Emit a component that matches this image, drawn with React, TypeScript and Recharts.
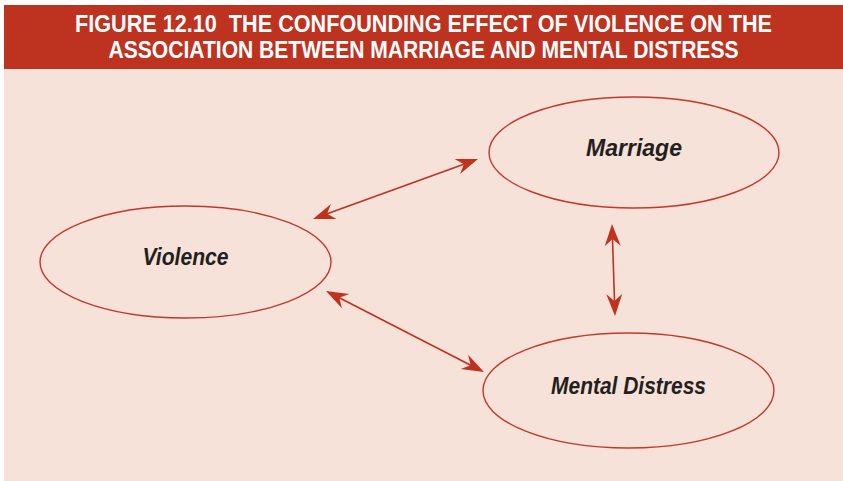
import React from 'react';
import { ScatterChart, Scatter, XAxis, YAxis, ReferenceArea, ReferenceLine } from 'recharts';

// Diagram units (one unit per pixel of the reference figure)
const W = 843;
const H = 481;

const TITLE_LINES = [
  'FIGURE 12.10\u00A0 THE CONFOUNDING EFFECT OF VIOLENCE ON THE',
  'ASSOCIATION BETWEEN MARRIAGE AND MENTAL DISTRESS',
];

const NODE_NAMES = ['Marriage', 'Violence', 'Mental Distress'];
const NODE_LEFT = [489, 40, 483];
const NODE_RIGHT = [779, 331, 774];
const NODE_TOP = [97, 206, 333];
const NODE_BOTTOM = [208, 318, 448];

const ARROW_FROM_X = [313, 612, 326];
const ARROW_FROM_Y = [219, 224, 291];
const ARROW_TO_X = [478, 615, 484];
const ARROW_TO_Y = [159, 316, 372];

const PANEL = { x1: 4, x2: 843, y1: 5, y2: 481 };
const HEADER = { x1: 4, x2: 843, y1: 5, y2: 69 };

const RED = '#BE3220';
const PEACH = '#F6E2D8';
const STROKE = '#C4382A';
const TEXT = '#231F20';

const LABEL_WIDTH: Record<string, number> = {
  Marriage: 96,
  Violence: 86,
  'Mental Distress': 155,
};
const TITLE_WIDTH = [697, 630];

const nodeData = NODE_NAMES.map((name, i) => ({
  name,
  x: (NODE_LEFT[i] + NODE_RIGHT[i]) / 2,
  y: (NODE_TOP[i] + NODE_BOTTOM[i]) / 2,
}));

const arrows = ARROW_FROM_X.map((_, i) => [
  { x: ARROW_FROM_X[i], y: ARROW_FROM_Y[i] },
  { x: ARROW_TO_X[i], y: ARROW_TO_Y[i] },
]);

function head(tx: number, ty: number, ux: number, uy: number) {
  // ux,uy: unit vector pointing toward the tip
  const L = 22;
  const N = 15;
  const Wd = 8;
  const px = -uy;
  const py = ux;
  const bx = tx - ux * L;
  const by = ty - uy * L;
  const nx = tx - ux * N;
  const ny = ty - uy * N;
  return `M${tx},${ty} L${bx + px * Wd},${by + py * Wd} L${nx},${ny} L${bx - px * Wd},${by - py * Wd} Z`;
}

const ArrowShape = (props: any) => {
  const { x1, y1, x2, y2 } = props;
  if ([x1, y1, x2, y2].some((v) => typeof v !== 'number' || isNaN(v))) return null;
  const dx = x2 - x1;
  const dy = y2 - y1;
  const len = Math.sqrt(dx * dx + dy * dy);
  const ux = dx / len;
  const uy = dy / len;
  return (
    <g>
      <line
        x1={x1 + ux * 10}
        y1={y1 + uy * 10}
        x2={x2 - ux * 10}
        y2={y2 - uy * 10}
        stroke={RED}
        strokeWidth={1.6}
      />
      <path d={head(x2, y2, ux, uy)} fill={RED} />
      <path d={head(x1, y1, -ux, -uy)} fill={RED} />
    </g>
  );
};

const EllipseShape = (props: any) => {
  const { x, y, width, height } = props;
  return (
    <ellipse
      cx={x + width / 2}
      cy={y + height / 2}
      rx={width / 2}
      ry={height / 2}
      fill="none"
      stroke={STROKE}
      strokeWidth={1.4}
    />
  );
};

const RectShape = (fill: string) => (props: any) => {
  const { x, y, width, height } = props;
  return <rect x={x} y={y} width={width} height={height} fill={fill} />;
};

const HeaderShape = (props: any) => {
  const { x, y, width, height } = props;
  const cx = x + width / 2;
  return (
    <g>
      <rect x={x} y={y} width={width} height={height} fill={RED} />
      {TITLE_LINES.map((t, i) => (
        <text
          key={i}
          x={cx}
          y={y + 27 + i * 26}
          textAnchor="middle"
          fill="#FFFFFF"
          fontFamily="'Liberation Sans', Arial, sans-serif"
          fontWeight="bold"
          fontSize={24}
          textLength={TITLE_WIDTH[i]}
          lengthAdjust="spacingAndGlyphs"
        >
          {t}
        </text>
      ))}
    </g>
  );
};

const LabelShape = (props: any) => {
  const { cx, cy, payload } = props;
  return (
    <text
      x={cx}
      y={cy + 3}
      textAnchor="middle"
      fill={TEXT}
      fontFamily="'Liberation Sans', Arial, sans-serif"
      fontWeight="bold"
      fontStyle="italic"
      fontSize={24.5}
      textLength={LABEL_WIDTH[payload.name]}
      lengthAdjust="spacingAndGlyphs"
    >
      {payload.name}
    </text>
  );
};

export default function App() {
  return (
    <div style={{ position: 'absolute', left: 0, top: 0, width: W, height: H, background: '#FFFFFF' }}>
      <ScatterChart width={W} height={H} margin={{ top: 0, right: 0, bottom: 0, left: 0 }}>
        <XAxis type="number" dataKey="x" domain={[0, W]} hide allowDataOverflow />
        <YAxis type="number" dataKey="y" domain={[0, H]} reversed hide allowDataOverflow />
        <ReferenceArea
          x1={PANEL.x1}
          x2={PANEL.x2}
          y1={PANEL.y1}
          y2={PANEL.y2}
          shape={RectShape(PEACH)}
          ifOverflow="visible"
        />
        <ReferenceArea
          x1={HEADER.x1}
          x2={HEADER.x2}
          y1={HEADER.y1}
          y2={HEADER.y2}
          shape={HeaderShape}
          ifOverflow="visible"
        />
        {NODE_NAMES.map((n, i) => (
          <ReferenceArea
            key={n}
            x1={NODE_LEFT[i]}
            x2={NODE_RIGHT[i]}
            y1={NODE_TOP[i]}
            y2={NODE_BOTTOM[i]}
            shape={EllipseShape}
            ifOverflow="visible"
          />
        ))}
        {arrows.map((seg, i) => (
          <ReferenceLine key={i} segment={seg} shape={ArrowShape} ifOverflow="visible" />
        ))}
        <Scatter data={nodeData} shape={LabelShape} isAnimationActive={false} />
      </ScatterChart>
    </div>
  );
}
